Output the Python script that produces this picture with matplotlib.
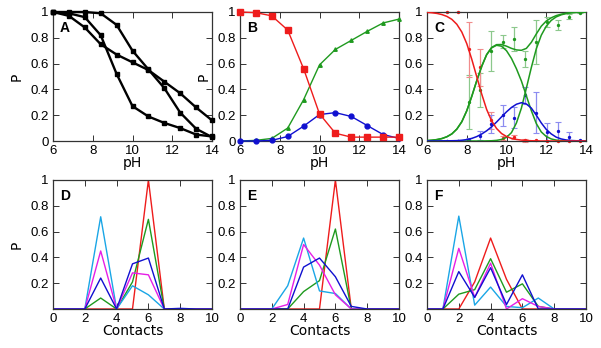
import matplotlib
matplotlib.use("Agg")
import matplotlib.pyplot as plt
import numpy as np

# ---------------- data ----------------
ph_pts = [6.0, 6.8, 7.6, 8.4, 9.2, 10.0, 10.8, 11.6, 12.4, 13.2, 14.0]

# Panel A (three black curves)
a_line1 = [1.0, 1.0, 1.0, 0.99, 0.90, 0.70, 0.555, 0.41, 0.22, 0.095, 0.03]
a_line2 = [1.0, 0.97, 0.88, 0.75, 0.67, 0.61, 0.55, 0.46, 0.37, 0.26, 0.16]
a_line3 = [1.0, 0.99, 0.96, 0.82, 0.52, 0.27, 0.19, 0.14, 0.10, 0.05, 0.035]

# Panel B
b_red = [1.0, 0.995, 0.97, 0.86, 0.56, 0.21, 0.06, 0.03, 0.03, 0.03, 0.03]
b_green = [0.0, 0.005, 0.02, 0.10, 0.32, 0.59, 0.71, 0.78, 0.85, 0.915, 0.945]
b_blue = [0.0, 0.0, 0.005, 0.035, 0.115, 0.205, 0.22, 0.19, 0.12, 0.05, 0.02]

# Panel C fitted curves (read at 0.25 pH steps)
c_ph = [6.00, 6.25, 6.50, 6.75, 7.00, 7.25, 7.50, 7.75, 8.00, 8.25, 8.50,
        8.75, 9.00, 9.25, 9.50, 9.75, 10.00, 10.25, 10.50, 10.75, 11.00,
        11.25, 11.50, 11.75, 12.00, 12.25, 12.50, 12.75, 13.00, 13.25,
        13.50, 13.75, 14.00]
c_red = [0.997, 0.994, 0.989, 0.980, 0.966, 0.943, 0.905, 0.845, 0.755,
         0.635, 0.500, 0.365, 0.245, 0.157, 0.097, 0.058, 0.035, 0.020,
         0.012, 0.007, 0.004, 0.002, 0.001, 0.0, 0.0, 0.0, 0.0, 0.0, 0.0,
         0.0, 0.0, 0.0, 0.0]
c_blue = [0.0, 0.0, 0.0, 0.001, 0.001, 0.002, 0.003, 0.006, 0.011, 0.020,
          0.034, 0.054, 0.079, 0.110, 0.147, 0.187, 0.226, 0.260, 0.285,
          0.297, 0.287, 0.255, 0.200, 0.140, 0.090, 0.055, 0.030, 0.016,
          0.008, 0.004, 0.002, 0.001, 0.0]
c_green_mid = [0.003, 0.006, 0.011, 0.019, 0.033, 0.055, 0.092, 0.149,
               0.234, 0.345, 0.466, 0.578, 0.668, 0.722, 0.742, 0.735,
               0.700, 0.640, 0.560, 0.465, 0.350, 0.235, 0.135, 0.070,
               0.035, 0.016, 0.007, 0.003, 0.001, 0.0, 0.0, 0.0, 0.0]
c_green_late = [0.0, 0.0, 0.0, 0.0, 0.0, 0.0, 0.0, 0.0, 0.0, 0.0, 0.0,
                0.0, 0.001, 0.002, 0.005, 0.012, 0.028, 0.065, 0.140,
                0.255, 0.410, 0.570, 0.715, 0.820, 0.890, 0.935, 0.962,
                0.978, 0.988, 0.994, 0.997, 0.998, 0.999]
c_green_sum = [0.003, 0.006, 0.011, 0.019, 0.033, 0.055, 0.092, 0.149,
               0.234, 0.345, 0.466, 0.578, 0.670, 0.725, 0.747, 0.748,
               0.735, 0.718, 0.706, 0.703, 0.718, 0.765, 0.830, 0.890,
               0.930, 0.955, 0.972, 0.983, 0.990, 0.995, 0.997, 0.998,
               0.999]

# Panel C measured points with error bars
cd_ph = [7.00, 7.56, 8.12, 8.68, 9.24, 9.80, 10.36, 10.92, 11.48, 12.04,
         12.60, 13.16, 13.72]
cd_red = [1.0, 1.0, 0.71, 0.57, 0.16, 0.025, 0.03, 0.005, 0.005, 0.0, 0.0,
          0.0, 0.0]
cd_red_err = [0.0, 0.0, 0.21, 0.14, 0.065, 0.015, 0.015, 0.01, 0.005, 0.0,
              0.0, 0.0, 0.0]
cd_green = [0.0, 0.0, 0.30, 0.395, 0.70, 0.77, 0.79, 0.635, 0.77, 0.92,
            0.90, 0.965, 0.995]
cd_green_err = [0.0, 0.0, 0.21, 0.13, 0.155, 0.05, 0.09, 0.065, 0.17, 0.04,
                0.04, 0.02, 0.005]
cd_blue = [0.0, 0.0, 0.01, 0.04, 0.13, 0.20, 0.18, 0.355, 0.22, 0.07,
           0.075, 0.03, 0.005]
cd_blue_err = [0.0, 0.0, 0.01, 0.035, 0.07, 0.08, 0.08, 0.065, 0.16, 0.07,
               0.07, 0.04, 0.005]

# Bottom panels: contacts distributions
contacts = [0, 1, 2, 3, 4, 5, 6, 7, 8, 9, 10]
d_cyan = [0, 0, 0, 0.715, 0, 0.18, 0.11, 0, 0, 0, 0]
d_magenta = [0, 0, 0, 0.45, 0, 0.28, 0.265, 0, 0, 0, 0]
d_blue = [0, 0, 0, 0.24, 0, 0.35, 0.395, 0, 0.005, 0, 0]
d_green = [0, 0, 0, 0.085, 0, 0.21, 0.695, 0, 0, 0, 0]
d_red = [0, 0, 0, 0, 0, 0, 1.0, 0, 0, 0, 0]

e_cyan = [0, 0, 0, 0.18, 0.55, 0.14, 0.12, 0, 0, 0, 0]
e_magenta = [0, 0, 0, 0.035, 0.50, 0.34, 0.11, 0, 0, 0, 0]
e_blue = [0, 0, 0, 0, 0.325, 0.395, 0.25, 0.02, 0, 0, 0]
e_green = [0, 0, 0, 0, 0.135, 0.22, 0.62, 0, 0, 0, 0]
e_red = [0, 0, 0, 0, 0, 0, 1.0, 0, 0, 0, 0]

f_cyan = [0, 0, 0.72, 0.03, 0.17, 0.02, 0.01, 0.085, 0, 0, 0]
f_magenta = [0, 0, 0.47, 0.09, 0.355, 0, 0.08, 0.02, 0, 0, 0]
f_blue = [0, 0, 0.29, 0.09, 0.32, 0.035, 0.265, 0, 0, 0, 0]
f_green = [0, 0, 0.115, 0.15, 0.39, 0.13, 0.195, 0.02, 0, 0, 0]
f_red = [0, 0, 0, 0.21, 0.55, 0.23, 0, 0, 0, 0, 0]

top_xticks = [6, 8, 10, 12, 14]
top_yticks = [0, 0.2, 0.4, 0.6, 0.8, 1.0]
top_ylabels = ["0", "0.2", "0.4", "0.6", "0.8", "1"]
bot_xticks = [0, 2, 4, 6, 8, 10]
bot_yticks = [0.2, 0.4, 0.6, 0.8, 1.0]
bot_ylabels = ["0.2", "0.4", "0.6", "0.8", "1"]

# ---------------- styling ----------------
RED = "#ee1c1c"
GREEN = "#1f9a1f"
BLUE = "#1010d0"
CYAN = "#1aa6e6"
MAGENTA = "#e61ee6"
TICKFONT = "Liberation Sans"
LABFONT = "DejaVu Sans"

W, H = 601, 348
fig = plt.figure(figsize=(W / 100, H / 100), dpi=100)

lefts = [53, 240, 427]
axw = 159
top_b, top_h = 141, 129   # pixel y of axis bottom, height
bot_b = 309


def make_ax(left_px, bottom_px):
    return fig.add_axes([left_px / W, 1 - bottom_px / H, axw / W, top_h / H])


def style(ax, letter, xticks, yticks, ylabels, xlim, xlabel, ylabel):
    ax.set_xlim(*xlim)
    ax.set_ylim(0, 1)
    ax.set_xticks(xticks)
    ax.set_xticklabels([str(t) for t in xticks], fontfamily=TICKFONT,
                       fontsize=9.5)
    ax.set_yticks(yticks)
    ax.set_yticklabels(ylabels, fontfamily=TICKFONT, fontsize=9.5)
    ax.tick_params(direction="in", top=True, right=True, length=4,
                   width=0.7, color="#333333", pad=3)
    for s in ax.spines.values():
        s.set_linewidth(0.9)
        s.set_color("#333333")
    if xlabel:
        ax.set_xlabel(xlabel, fontfamily=LABFONT, fontsize=10, labelpad=-1)
    if ylabel:
        ax.set_ylabel(ylabel, fontfamily=LABFONT, fontsize=10, labelpad=5)
    ax.text(0.045, 0.93, letter, transform=ax.transAxes, ha="left",
            va="top", fontfamily=TICKFONT, fontweight="bold", fontsize=10)


# Panel A
axA = make_ax(lefts[0], top_b)
for ys in (a_line1, a_line2, a_line3):
    axA.plot(ph_pts, ys, color="black", lw=1.7, marker="s", ms=3.0,
             clip_on=False, zorder=3)
style(axA, "A", top_xticks, top_yticks, top_ylabels, (6, 14), "pH", "P")

# Panel B
axB = make_ax(lefts[1], top_b)
axB.plot(ph_pts, b_green, color=GREEN, lw=1.0, marker="^", ms=2.5,
         clip_on=False, zorder=3)
axB.plot(ph_pts, b_blue, color=BLUE, lw=1.0, marker="o", ms=3.5,
         clip_on=False, zorder=3)
axB.plot(ph_pts, b_red, color=RED, lw=1.0, marker="s", ms=3.8,
         clip_on=False, zorder=4)
style(axB, "B", top_xticks, top_yticks, top_ylabels, (6, 14), "pH", "P")

# Panel C
axC = make_ax(lefts[2], top_b)
axC.errorbar(cd_ph, cd_green, yerr=cd_green_err, fmt="o", ms=1.4,
             color=GREEN, ecolor="#8cc88c", elinewidth=0.9, capsize=2,
             capthick=0.8, zorder=2)
axC.errorbar(cd_ph, cd_red, yerr=cd_red_err, fmt="o", ms=1.4,
             color=RED, ecolor="#f08c8c", elinewidth=0.9, capsize=2,
             capthick=0.8, zorder=2, clip_on=False)
axC.errorbar(cd_ph, cd_blue, yerr=cd_blue_err, fmt="o", ms=1.4,
             color=BLUE, ecolor="#8c8cf0", elinewidth=0.9, capsize=2,
             capthick=0.8, zorder=2)
axC.plot(c_ph, c_green_mid, color=GREEN, lw=1.1, zorder=3)
axC.plot(c_ph, c_green_late, color=GREEN, lw=1.1, zorder=3)
axC.plot(c_ph, c_green_sum, color=GREEN, lw=1.1, zorder=3)
axC.plot(c_ph, c_blue, color=BLUE, lw=1.1, zorder=3)
axC.plot(c_ph, c_red, color=RED, lw=1.1, zorder=3)
style(axC, "C", top_xticks, top_yticks, top_ylabels, (6, 14), "pH", None)

# Bottom panels
bottom_sets = [
    ("D", d_cyan, d_magenta, d_blue, d_green, d_red, "P"),
    ("E", e_cyan, e_magenta, e_blue, e_green, e_red, None),
    ("F", f_cyan, f_magenta, f_blue, f_green, f_red, None),
]
for i, (letter, cy, mg, bl, gr, rd, ylab) in enumerate(bottom_sets):
    ax = make_ax(lefts[i], bot_b)
    ax.plot(contacts, rd, color=RED, lw=1.0)
    ax.plot(contacts, gr, color=GREEN, lw=1.0)
    ax.plot(contacts, cy, color=CYAN, lw=1.0)
    ax.plot(contacts, mg, color=MAGENTA, lw=1.0)
    ax.plot(contacts, bl, color=BLUE, lw=1.0)
    style(ax, letter, bot_xticks, bot_yticks, bot_ylabels, (0, 10),
          "Contacts", ylab)

fig.savefig("out.png", dpi=100)
